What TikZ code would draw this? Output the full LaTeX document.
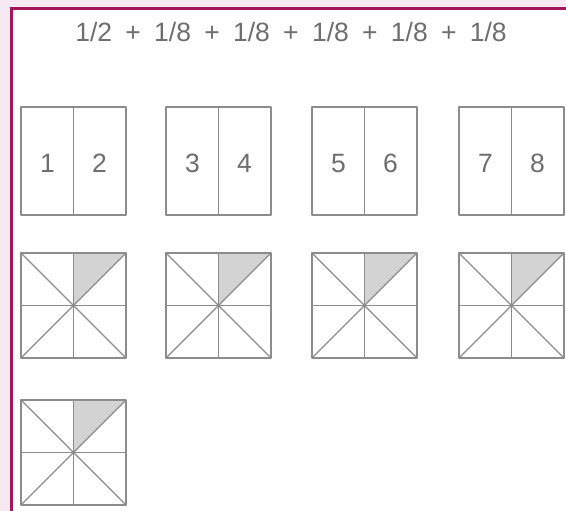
\documentclass[tikz,border=0pt]{standalone}
\usepackage{fontspec}
\setmainfont{Liberation Sans}
\definecolor{outerpink}{HTML}{F6E9F1}
\definecolor{framemag}{HTML}{A3175A}
\definecolor{inkgray}{HTML}{8C8C8C}
\definecolor{txtgray}{HTML}{6E6E6E}
\definecolor{shadegray}{HTML}{D3D3D3}
\begin{document}
\begin{tikzpicture}[x=1pt,y=-1pt,
  gline/.style={draw=inkgray, line width=1.3pt, line join=round},
  num/.style={font=\fontsize{26.5}{30}\selectfont, text=txtgray, inner sep=0pt}]
\useasboundingbox (0,0) rectangle (566,511);
\fill[outerpink] (0,0) rectangle (566,511);
\fill[white] (11.5,8.5) rectangle (566,511);
\draw[framemag, line width=2.6pt] (11.5,520) -- (11.5,8.5) -- (580,8.5);
% title
\node[num, anchor=base] (sum) at (291,42)
  {1/2\hspace{13.3pt}+\hspace{13.3pt}1/8\hspace{13.3pt}+\hspace{13.3pt}1/8\hspace{13.3pt}+\hspace{13.3pt}1/8\hspace{13.3pt}+\hspace{13.3pt}1/8\hspace{13.3pt}+\hspace{13.3pt}1/8};
% halves boxes
\foreach \x [count=\i] in {21,166,312,459}{
  \draw[gline] (\x,107) rectangle (\x+105,215);
  \draw[gline] (\x+52.5,107) -- (\x+52.5,215);
  \pgfmathtruncatemacro{\a}{2*\i-1}
  \pgfmathtruncatemacro{\b}{2*\i}
  \node[num, anchor=base] (n\a) at (\x+26.5,173) {\a};
  \node[num, anchor=base] (n\b) at (\x+78.5,173) {\b};
}
% eighths squares
\foreach \x/\y in {21/253,166/253,312/253,459/253,21/400}{
  \fill[shadegray] (\x+52.5,\y) -- (\x+105,\y) -- (\x+52.5,\y+52.5) -- cycle;
  \draw[gline] (\x,\y) rectangle (\x+105,\y+105);
  \draw[gline] (\x+52.5,\y) -- (\x+52.5,\y+105);
  \draw[gline] (\x,\y+52.5) -- (\x+105,\y+52.5);
  \draw[gline] (\x,\y) -- (\x+105,\y+105);
  \draw[gline] (\x+105,\y) -- (\x,\y+105);
}
\end{tikzpicture}
\end{document}
